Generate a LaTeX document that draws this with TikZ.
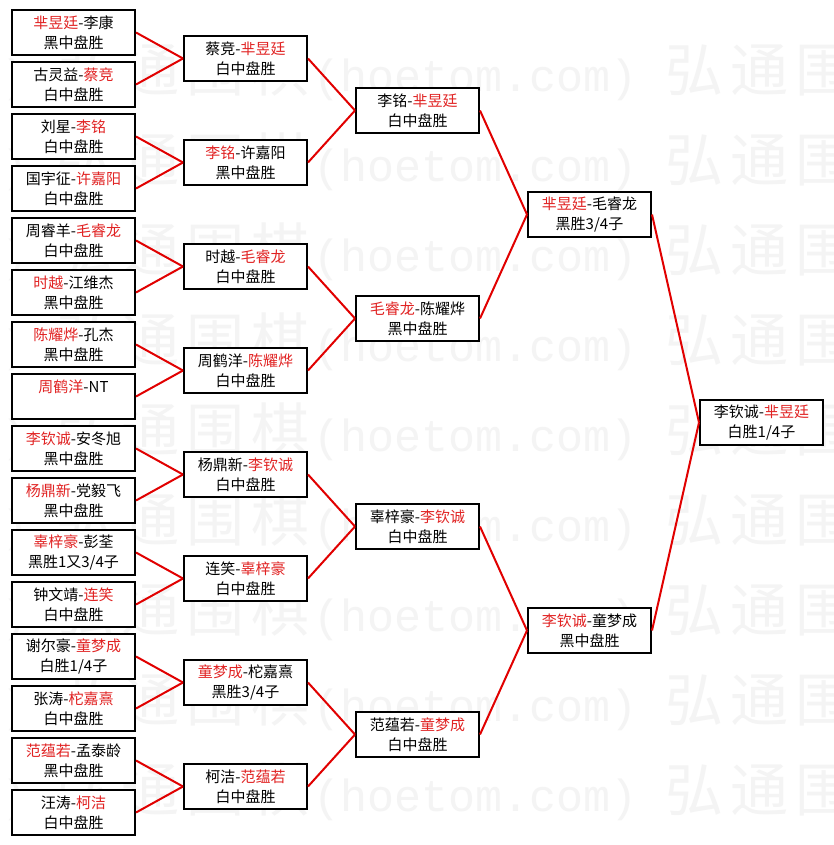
\documentclass[tikz,border=0pt]{standalone}
\usepackage{fontspec}
\setmainfont{Noto Sans CJK SC}
\newfontfamily\wmcjk{Noto Sans CJK SC}
\newfontfamily\wmlat{Liberation Mono}
\definecolor{wm}{RGB}{244,244,244}
\definecolor{rtxt}{RGB}{225,35,35}
\definecolor{conn}{RGB}{225,0,0}
\newcommand\R[1]{\textcolor{rtxt}{#1}}
\newcommand\wc[1]{\makebox[65pt][c]{#1}}
\newcommand\wl[1]{\makebox[27pt][c]{#1}}
\newcommand\wmtext{{\wmcjk\fontsize{58pt}{60pt}\selectfont\wc{弘}\wc{通}\wc{围}\wc{棋}}{\wmlat\fontsize{45pt}{50pt}\selectfont\wl{(}\wl{h}\wl{o}\wl{e}\wl{t}\wl{o}\wl{m}\wl{.}\wl{c}\wl{o}\wl{m}\wl{)}}}
\tikzset{
  box/.style={draw=black, line width=2pt, fill=white, minimum width=123pt, minimum height=45pt,
    inner sep=0pt, align=center, font=\fontsize{15pt}{20pt}\selectfont},
  link/.style={draw=conn, line width=2pt},
  wmnode/.style={inner sep=0pt, text=wm, anchor=west}
}
\begin{document}
\begin{tikzpicture}[x=1pt,y=-1pt]
\useasboundingbox (0,0) rectangle (833,845);
\fill[white] (0,0) rectangle (833,845);
\begin{scope}
\clip (0,0) rectangle (833,845);
\foreach \r in {0,...,8}{
  \foreach \k in {-1,0,1}{
    \node[wmnode] (w\r\k) at ({53+609*\k},{72+90*\r}) {\wmtext};
  }
}
\end{scope}
% level 1
\node[box] (a1)  at (73.5, 32.5)  {\R{芈昱廷}-李康\\黑中盘胜};
\node[box] (a2)  at (73.5, 84.5)  {古灵益-\R{蔡竞}\\白中盘胜};
\node[box] (a3)  at (73.5, 136.5) {刘星-\R{李铭}\\白中盘胜};
\node[box] (a4)  at (73.5, 188.5) {国宇征-\R{许嘉阳}\\白中盘胜};
\node[box] (a5)  at (73.5, 240.5) {周睿羊-\R{毛睿龙}\\白中盘胜};
\node[box] (a6)  at (73.5, 292.5) {\R{时越}-江维杰\\黑中盘胜};
\node[box] (a7)  at (73.5, 344.5) {\R{陈耀烨}-孔杰\\黑中盘胜};
\node[box] (a8)  at (73.5, 396.5) {\R{周鹤洋}-NT\\\phantom{白中盘胜}};
\node[box] (a9)  at (73.5, 448.5) {\R{李钦诚}-安冬旭\\黑中盘胜};
\node[box] (a10) at (73.5, 500.5) {\R{杨鼎新}-党毅飞\\黑中盘胜};
\node[box] (a11) at (73.5, 552.5) {\R{辜梓豪}-彭荃\\黑胜1又3/4子};
\node[box] (a12) at (73.5, 604.5) {钟文靖-\R{连笑}\\白中盘胜};
\node[box] (a13) at (73.5, 656.5) {谢尔豪-\R{童梦成}\\白胜1/4子};
\node[box] (a14) at (73.5, 708.5) {张涛-\R{柁嘉熹}\\白中盘胜};
\node[box] (a15) at (73.5, 760.5) {\R{范蕴若}-孟泰龄\\黑中盘胜};
\node[box] (a16) at (73.5, 812.5) {汪涛-\R{柯洁}\\白中盘胜};
% level 2
\node[box] (b1) at (245.5, 58.5)  {蔡竞-\R{芈昱廷}\\白中盘胜};
\node[box] (b2) at (245.5, 162.5) {\R{李铭}-许嘉阳\\黑中盘胜};
\node[box] (b3) at (245.5, 266.5) {时越-\R{毛睿龙}\\白中盘胜};
\node[box] (b4) at (245.5, 370.5) {周鹤洋-\R{陈耀烨}\\白中盘胜};
\node[box] (b5) at (245.5, 474.5) {杨鼎新-\R{李钦诚}\\白中盘胜};
\node[box] (b6) at (245.5, 578.5) {连笑-\R{辜梓豪}\\白中盘胜};
\node[box] (b7) at (245.5, 682.5) {\R{童梦成}-柁嘉熹\\黑胜3/4子};
\node[box] (b8) at (245.5, 786.5) {柯洁-\R{范蕴若}\\白中盘胜};
% level 3
\node[box] (c1) at (417.5, 110.5) {李铭-\R{芈昱廷}\\白中盘胜};
\node[box] (c2) at (417.5, 318.5) {\R{毛睿龙}-陈耀烨\\黑中盘胜};
\node[box] (c3) at (417.5, 526.5) {辜梓豪-\R{李钦诚}\\白中盘胜};
\node[box] (c4) at (417.5, 734.5) {范蕴若-\R{童梦成}\\白中盘胜};
% level 4
\node[box] (d1) at (589.5, 214.5) {\R{芈昱廷}-毛睿龙\\黑胜3/4子};
\node[box] (d2) at (589.5, 630.5) {\R{李钦诚}-童梦成\\黑中盘胜};
% final
\node[box] (e) at (761.5, 422.5) {李钦诚-\R{芈昱廷}\\白胜1/4子};
% connectors
\foreach \i in {1,...,8}{
  \pgfmathtruncatemacro\ta{2*\i-1}
  \pgfmathtruncatemacro\tb{2*\i}
  \draw[link] (a\ta.east) -- (b\i.west);
  \draw[link] (a\tb.east) -- (b\i.west);
}
\foreach \i in {1,...,4}{
  \pgfmathtruncatemacro\ta{2*\i-1}
  \pgfmathtruncatemacro\tb{2*\i}
  \draw[link] (b\ta.east) -- (c\i.west);
  \draw[link] (b\tb.east) -- (c\i.west);
}
\draw[link] (c1.east) -- (d1.west);
\draw[link] (c2.east) -- (d1.west);
\draw[link] (c3.east) -- (d2.west);
\draw[link] (c4.east) -- (d2.west);
\draw[link] (d1.east) -- (e.west);
\draw[link] (d2.east) -- (e.west);
\end{tikzpicture}
\end{document}
